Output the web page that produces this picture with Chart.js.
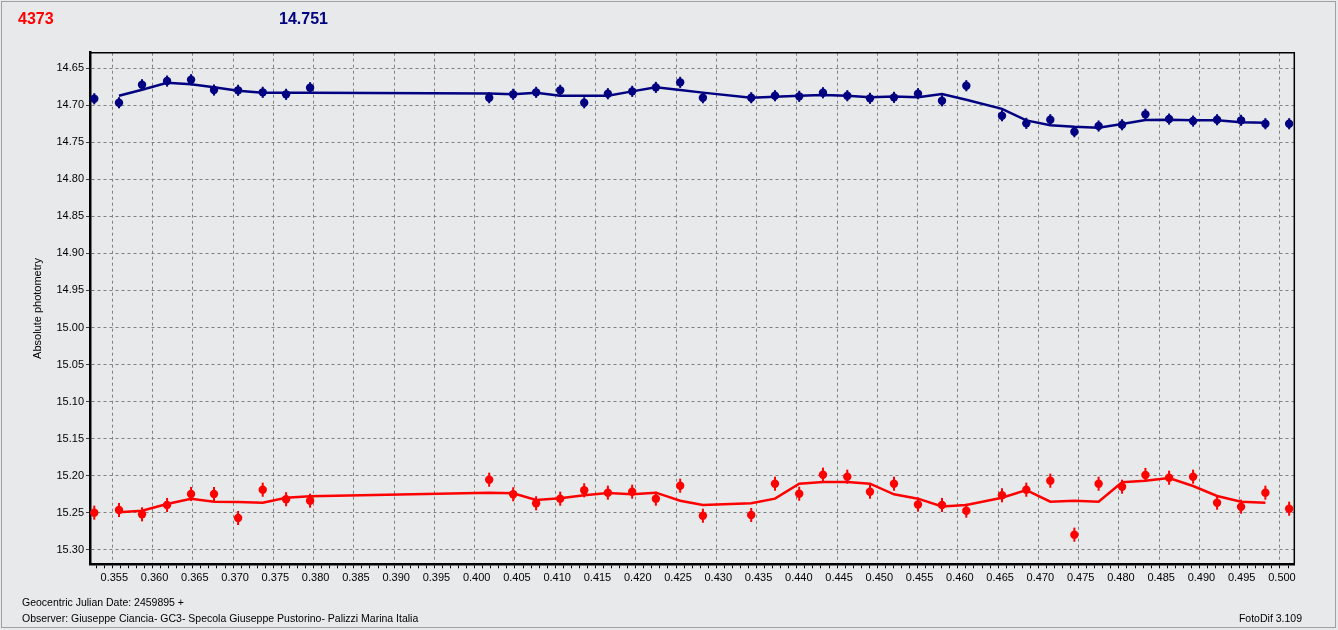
<!DOCTYPE html>
<html>
<head>
<meta charset="utf-8">
<script src="https://cdn.jsdelivr.net/npm/chart.js@4.4.0/dist/chart.umd.min.js"></script>
<style>
  html, body { margin: 0; padding: 0; background: #e8e9eb; }
  #wrap { position: relative; width: 1338px; height: 630px; overflow: hidden; font-family: 'Liberation Sans', Arial, sans-serif; }
  #frame { position: absolute; left: 1px; top: 1px; width: 1333px; height: 625px; border: 1px solid #a0a0a0; pointer-events: none; }
  canvas { position: absolute; left: 0; top: 0; }
  .lbl { position: absolute; white-space: nowrap; line-height: 1; }
  .big { font-size: 16px; font-weight: bold; top: 11px; }
  .small { font-size: 10.5px; color: #000; }
</style>
</head>
<body>
<div id="wrap">
  <canvas id="chart" width="1338" height="630"></canvas>
  <div id="frame"></div>
  <div class="lbl big" style="left:18px; color:#ff0000;">4373</div>
  <div class="lbl big" style="left:279px; color:#000080;">14.751</div>
  <div class="lbl small" style="left:22px; top:597px;">Geocentric Julian Date: 2459895 +</div>
  <div class="lbl small" style="left:22px; top:613px;">Observer: Giuseppe Ciancia- GC3- Specola Giuseppe Pustorino- Palizzi Marina Italia</div>
  <div class="lbl small" style="right:36px; top:613px;">FotoDif 3.109</div>
</div>
<script>
// fractional JD (+ 2459895)
const xValues = [
  0.35276, 0.35583, 0.35869, 0.36180, 0.36478, 0.36763, 0.37062, 0.37368, 0.37658, 0.37956,
  0.40180, 0.40478, 0.40763, 0.41062, 0.41360, 0.41654, 0.41956, 0.42250, 0.42552, 0.42834,
  0.43434, 0.43729, 0.44030, 0.44325, 0.44627, 0.44909, 0.45207, 0.45505, 0.45803, 0.46105,
  0.46548, 0.46850, 0.47148, 0.47447, 0.47748, 0.48039, 0.48329, 0.48623, 0.48921, 0.49219,
  0.49517, 0.49819, 0.50114
];

// comparison star (blue)
const blueMag = [
  14.6912, 14.6966, 14.6723, 14.6673, 14.6655, 14.6794, 14.6798, 14.6825, 14.6852, 14.6763,
  14.6898, 14.6852, 14.6825, 14.6798, 14.6966, 14.6844, 14.6812, 14.6758, 14.6690, 14.6898,
  14.6898, 14.6871, 14.6879, 14.6831, 14.6871, 14.6906, 14.6893, 14.6844, 14.6939, 14.6736,
  14.7141, 14.7244, 14.7195, 14.7357, 14.7280, 14.7263, 14.7122, 14.7186, 14.7213, 14.7195,
  14.7203, 14.7249, 14.7249
];
// smoothed curve, from 2nd to next-to-last point
const blueFit = [
  14.6871, 14.6790, 14.6696, 14.6717, 14.6757, 14.6804, 14.6831, 14.6831, 14.6831,
  14.6842, 14.6852, 14.6831, 14.6871, 14.6871, 14.6871, 14.6812, 14.6758, 14.6794, 14.6829,
  14.6898, 14.6885, 14.6871, 14.6860, 14.6870, 14.6890, 14.6882, 14.6890, 14.6847, 14.6925,
  14.7048, 14.7204, 14.7268, 14.7290, 14.7303, 14.7253, 14.7199, 14.7195, 14.7203, 14.7203,
  14.7230, 14.7236
];

// target (red)
const redMag = [
  15.2500, 15.2464, 15.2522, 15.2396, 15.2248, 15.2248, 15.2572, 15.2190, 15.2319, 15.2338,
  15.2055, 15.2252, 15.2373, 15.2311, 15.2198, 15.2230, 15.2217, 15.2311, 15.2136, 15.2541,
  15.2531, 15.2109, 15.2244, 15.1987, 15.2014, 15.2217, 15.2109, 15.2390, 15.2396, 15.2473,
  15.2265, 15.2190, 15.2068, 15.2797, 15.2109, 15.2149, 15.1991, 15.2028, 15.2014, 15.2365,
  15.2419, 15.2230, 15.2446
];
const redFit = [
  15.2495, 15.2473, 15.2383, 15.2311, 15.2352, 15.2356, 15.2365, 15.2299, 15.2279,
  15.2230, 15.2238, 15.2329, 15.2306, 15.2265, 15.2234, 15.2252, 15.2230, 15.2338, 15.2396,
  15.2373, 15.2311, 15.2109, 15.2086, 15.2086, 15.2109, 15.2252, 15.2311, 15.2415, 15.2396,
  15.2299, 15.2194, 15.2352, 15.2338, 15.2352, 15.2090, 15.2068, 15.2032, 15.2140, 15.2275,
  15.2352, 15.2365
];

const blueErr = 0.0075;
const redErr = 0.0095;

const xTickLabels = ['0.355', '0.360', '0.365', '0.370', '0.375', '0.380', '0.385', '0.390', '0.395', '0.400',
  '0.405', '0.410', '0.415', '0.420', '0.425', '0.430', '0.435', '0.440', '0.445', '0.450',
  '0.455', '0.460', '0.465', '0.470', '0.475', '0.480', '0.485', '0.490', '0.495', '0.500'];
const yTickLabels = ['14.65', '14.70', '14.75', '14.80', '14.85', '14.90', '14.95', '15.00',
  '15.05', '15.10', '15.15', '15.20', '15.25', '15.30'];

const BLUE = '#000080';
const RED = '#ff0000';

const toPoints = (xs, ys) => ys.map((y, i) => ({ x: xs[i], y }));
const fitX = xValues.slice(1, xValues.length - 1);

const errorBars = {
  id: 'errorBars',
  beforeDatasetsDraw(chart) {
    const { ctx, scales: { x, y } } = chart;
    [[blueMag, blueErr, BLUE], [redMag, redErr, RED]].forEach(([mags, err, color]) => {
      ctx.save();
      ctx.strokeStyle = color;
      ctx.lineWidth = 2;
      mags.forEach((m, i) => {
        const px = x.getPixelForValue(xValues[i]);
        ctx.beginPath();
        ctx.moveTo(px, y.getPixelForValue(m - err));
        ctx.lineTo(px, y.getPixelForValue(m + err));
        ctx.stroke();
      });
      ctx.restore();
    });
  }
};

const frameBox = {
  id: 'frameBox',
  afterDraw(chart) {
    const { ctx, chartArea: a } = chart;
    ctx.save();
    ctx.strokeStyle = '#000';
    ctx.lineWidth = 1.5;
    ctx.beginPath();
    ctx.moveTo(a.left, a.top);
    ctx.lineTo(a.right, a.top);
    ctx.lineTo(a.right, a.bottom);
    ctx.stroke();
    ctx.restore();
  }
};

const isMajor = v => xTickLabels.includes(v.toFixed(3));

new Chart(document.getElementById('chart'), {
  type: 'line',
  data: {
    datasets: [
      { data: toPoints(fitX, blueFit), borderColor: BLUE, borderWidth: 2.5, pointRadius: 0, tension: 0, fill: false },
      { data: toPoints(fitX, redFit), borderColor: RED, borderWidth: 2.5, pointRadius: 0, tension: 0, fill: false },
      { data: toPoints(xValues, blueMag), showLine: false, pointRadius: 4.2, pointStyle: 'circle',
        backgroundColor: BLUE, borderWidth: 0, clip: false },
      { data: toPoints(xValues, redMag), showLine: false, pointRadius: 4.2, pointStyle: 'circle',
        backgroundColor: RED, borderWidth: 0, clip: false }
    ]
  },
  options: {
    responsive: false,
    animation: false,
    events: [],
    layout: { padding: { left: 0, top: 52.7, right: 43.7, bottom: 0 } },
    plugins: { legend: { display: false }, tooltip: { enabled: false } },
    scales: {
      x: {
        type: 'linear',
        min: 0.35223,
        max: 0.50178,
        afterBuildTicks: scale => {
          const ticks = [];
          for (let v = 353; v <= 501; v++) ticks.push({ value: v / 1000 });
          scale.ticks = ticks;
        },
        afterFit: scale => { scale.height = 65.7; },
        ticks: {
          autoSkip: false,
          maxRotation: 0,
          padding: 3,
          labelOffset: 2,
          color: '#000',
          font: { family: "'Liberation Sans', Arial, sans-serif", size: 11 },
          callback: v => isMajor(v) ? v.toFixed(3) : ''
        },
        grid: {
          color: c => (c.tick && isMajor(c.tick.value)) ? '#808080' : 'rgba(0,0,0,0)',
          tickColor: '#000',
          tickLength: 4,
          lineWidth: 1
        },
        border: { display: true, color: '#000', width: 2.5, dash: [3, 3] }
      },
      y: {
        type: 'linear',
        reverse: true,
        min: 14.629,
        max: 15.3197,
        afterBuildTicks: scale => {
          scale.ticks = yTickLabels.map(s => ({ value: parseFloat(s) }));
        },
        afterFit: scale => { scale.width = 90; },
        ticks: {
          padding: 2,
          color: '#000',
          font: { family: "'Liberation Sans', Arial, sans-serif", size: 11 },
          callback: v => v.toFixed(2)
        },
        grid: {
          color: '#808080',
          tickColor: '#404040',
          tickLength: 4,
          lineWidth: 1
        },
        border: { display: true, color: '#000', width: 2.5, dash: [3, 3] },
        title: {
          display: true,
          text: 'Absolute photometry',
          color: '#000',
          font: { family: "'Liberation Sans', Arial, sans-serif", size: 11 },
          padding: { top: 31, bottom: 0 }
        }
      }
    }
  },
  plugins: [errorBars, frameBox]
});
</script>
</body>
</html>
